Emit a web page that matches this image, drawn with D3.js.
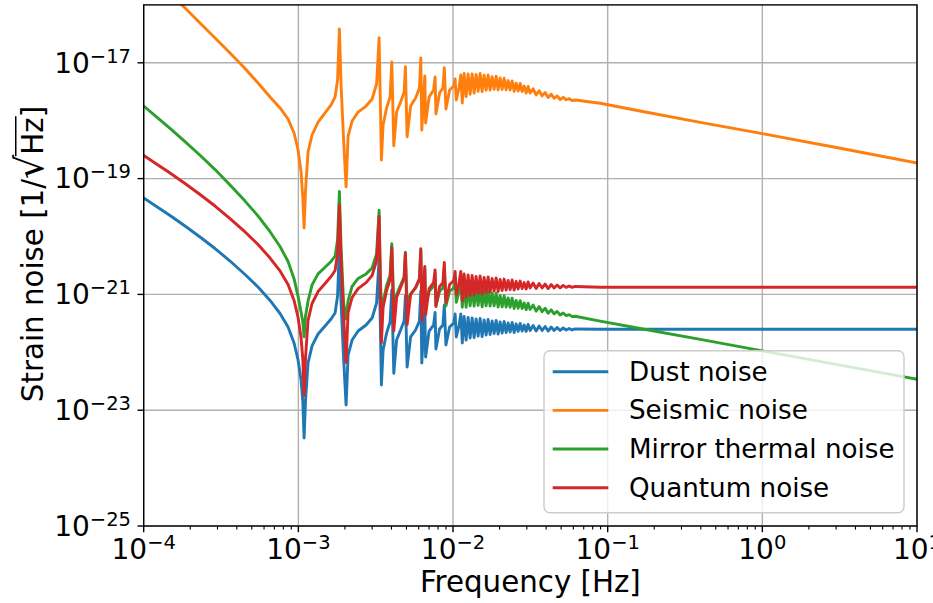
<!DOCTYPE html>
<html>
<head>
<meta charset="utf-8">
<script src="https://cdn.jsdelivr.net/npm/d3@7"></script>
<style>
  body { margin: 0; background: #fff; }
  svg { display: block; }
  text { font-family: "DejaVu Sans", sans-serif; fill: #000; }
</style>
</head>
<body>
<svg id="chart" width="933" height="603"></svg>
<script>
// Frequency grid shared by all noise curves [Hz]
const freqs = [
  1.00e-4, 1.183e-4, 1.480e-4, 1.850e-4, 2.313e-4, 2.893e-4, 3.616e-4, 4.521e-4, 5.487e-4, 6.561e-4,
  7.612e-4, 8.579e-4, 9.380e-4, 9.956e-4, 1.041e-3, 1.069e-3, 1.089e-3,
  1.113e-3, 1.155e-3, 1.226e-3, 1.341e-3, 1.488e-3, 1.627e-3, 1.728e-3, 1.793e-3,
  1.842e-3, 1.889e-3, 1.961e-3, 2.035e-3, 2.097e-3, 2.225e-3, 2.434e-3, 2.741e-3, 2.998e-3, 3.205e-3,
  3.327e-3, 3.392e-3, 3.443e-3, 3.531e-3, 3.720e-3, 3.918e-3, 4.019e-3, 4.141e-3, 4.317e-3, 4.583e-3,
  4.828e-3, 4.922e-3, 5.048e-3, 5.318e-3, 5.730e-3, 6.064e-3, 6.191e-3, 6.284e-3, 6.426e-3, 6.571e-3,
  6.650e-3, 7.004e-3, 7.489e-3, 7.659e-3, 7.751e-3, 8.189e-3, 8.603e-3, 8.784e-3, 8.997e-3, 9.506e-3,
  1.012e-2, 1.032e-2, 1.050e-2, 1.092e-2, 1.123e-2, 1.148e-2,
  1.180e-2, 1.215e-2, 1.252e-2, 1.290e-2, 1.329e-2, 1.369e-2, 1.410e-2, 1.453e-2, 1.497e-2, 1.542e-2,
  1.589e-2, 1.637e-2, 1.686e-2, 1.737e-2, 1.790e-2, 1.844e-2, 1.900e-2, 1.957e-2, 2.016e-2, 2.077e-2,
  2.140e-2, 2.205e-2, 2.271e-2, 2.340e-2, 2.411e-2, 2.484e-2, 2.559e-2, 2.636e-2, 2.716e-2, 2.798e-2,
  2.882e-2, 2.970e-2, 3.059e-2, 3.152e-2, 3.296e-2, 3.447e-2, 3.604e-2, 3.769e-2, 3.941e-2, 4.121e-2,
  4.310e-2, 4.507e-2, 4.712e-2, 4.928e-2, 5.153e-2, 5.389e-2, 5.635e-2, 5.892e-2, 6.162e-2,
  8.94e-2, 0.162, 0.397, 1.0, 3.19, 10.0
];

// Strain noise amplitude spectral densities [1/sqrt(Hz)]
const dustNoise = [
  4.62e-20, 3.43e-20, 2.31e-20, 1.52e-20, 9.80e-21, 6.20e-21, 3.77e-21, 2.21e-21, 1.34e-21, 7.85e-22,
  4.68e-22, 2.73e-22, 1.45e-22, 7.36e-23, 3.32e-23, 1.39e-23, 3.31e-24,
  1.50e-23, 6.53e-23, 1.29e-22, 2.07e-22, 2.85e-22, 3.76e-22, 4.77e-22, 9.38e-22,
  6.46e-21, 7.10e-22, 7.97e-23, 1.23e-23, 8.98e-23, 1.63e-22, 2.33e-22, 2.96e-22, 3.91e-22, 7.10e-22,
  4.09e-21, 2.63e-22, 2.72e-23, 1.10e-22, 2.15e-22, 3.34e-22, 1.19e-21, 4.34e-23, 1.63e-22, 2.43e-22,
  3.47e-22, 9.38e-22, 5.57e-23, 1.84e-22, 2.43e-22, 3.47e-22, 1.14e-21, 6.53e-23, 2.15e-22, 5.59e-22,
  8.29e-23, 2.33e-22, 2.96e-22, 4.87e-22, 1.14e-22, 2.53e-22, 2.96e-22, 6.56e-22, 1.34e-22, 2.73e-22,
  3.21e-22, 4.59e-22, 1.84e-22, 2.85e-22, 4.59e-22, 1.45e-22,
  4.15e-22, 1.63e-22, 3.99e-22, 1.77e-22, 3.91e-22, 1.80e-22, 3.76e-22, 1.91e-22, 3.83e-22, 1.87e-22,
  3.61e-22, 1.99e-22, 3.69e-22, 2.03e-22, 3.47e-22, 2.11e-22, 3.54e-22, 2.07e-22, 3.34e-22, 2.15e-22,
  3.40e-22, 2.20e-22, 3.21e-22, 2.24e-22, 3.27e-22, 2.20e-22, 3.08e-22, 2.29e-22, 3.14e-22, 2.33e-22,
  2.96e-22, 2.29e-22, 3.02e-22, 2.38e-22, 2.90e-22, 2.33e-22, 2.85e-22, 2.38e-22, 2.79e-22, 2.33e-22,
  2.73e-22, 2.38e-22, 2.68e-22, 2.38e-22, 2.63e-22, 2.43e-22, 2.58e-22, 2.43e-22, 2.53e-22,
  2.50e-22, 2.50e-22, 2.50e-22, 2.50e-22, 2.50e-22, 2.50e-22
];

const seismicNoise = [
  4.52e-16, 2.86e-16, 1.57e-16, 8.84e-17, 4.87e-17, 2.68e-17, 1.48e-17, 7.97e-18, 4.48e-18, 2.57e-18,
  1.66e-18, 1.07e-18, 6.13e-19, 3.12e-19, 1.30e-19, 4.62e-20, 1.40e-20,
  6.35e-20, 2.88e-19, 5.66e-19, 9.49e-19, 1.36e-18, 1.87e-18, 2.57e-18, 5.04e-18,
  3.83e-17, 4.14e-18, 4.64e-19, 7.25e-20, 5.44e-19, 9.88e-19, 1.41e-18, 1.79e-18, 2.37e-18, 4.30e-18,
  2.71e-17, 1.87e-18, 2.10e-19, 8.43e-19, 1.66e-18, 2.57e-18, 1.03e-17, 3.70e-19, 1.41e-18, 2.10e-18,
  3.13e-18, 8.56e-18, 5.29e-19, 1.79e-18, 2.47e-18, 3.67e-18, 1.21e-17, 6.91e-19, 2.28e-18, 5.92e-18,
  9.12e-19, 2.57e-18, 3.39e-18, 5.68e-18, 1.31e-18, 3.01e-18, 3.67e-18, 8.23e-18, 1.59e-18, 3.39e-18,
  3.97e-18, 5.25e-18, 2.28e-18, 3.67e-18, 6.16e-18, 2.02e-18,
  6.53e-18, 2.60e-18, 6.40e-18, 2.87e-18, 6.40e-18, 2.99e-18, 6.28e-18, 3.23e-18, 6.53e-18, 3.19e-18,
  6.11e-18, 3.35e-18, 6.18e-18, 3.39e-18, 5.77e-18, 3.50e-18, 5.85e-18, 3.40e-18, 5.46e-18, 3.47e-18,
  5.40e-18, 3.43e-18, 4.93e-18, 3.39e-18, 4.87e-18, 3.22e-18, 4.44e-18, 3.24e-18, 4.39e-18, 3.19e-18,
  3.97e-18, 3.01e-18, 3.90e-18, 3.01e-18, 3.56e-18, 2.78e-18, 3.29e-18, 2.68e-18, 3.07e-18, 2.51e-18,
  2.87e-18, 2.44e-18, 2.68e-18, 2.32e-18, 2.53e-18, 2.30e-18, 2.40e-18, 2.22e-18, 2.28e-18,
  2.00e-18, 1.47e-18, 9.38e-19, 5.99e-19, 3.34e-19, 1.86e-19
];

const mirrorThermalNoise = [
  1.79e-18, 1.225e-18, 7.39e-19, 4.36e-19, 2.53e-19, 1.43e-19, 7.78e-20, 4.09e-20, 2.26e-20, 1.21e-20,
  6.72e-21, 3.70e-21, 1.87e-21, 9.27e-22, 4.97e-22, 3.34e-22, 1.86e-22,
  4.24e-22, 7.64e-22, 1.46e-21, 2.26e-21, 2.94e-21, 3.71e-21, 4.58e-21, 8.84e-21,
  6.01e-20, 6.52e-21, 7.19e-22, 3.76e-22, 7.84e-22, 1.38e-21, 1.89e-21, 2.26e-21, 2.86e-21, 5.03e-21,
  2.85e-20, 1.81e-21, 6.30e-22, 7.41e-22, 1.42e-21, 2.14e-21, 7.54e-21, 7.39e-22, 9.98e-22, 1.45e-21,
  2.01e-21, 5.38e-21, 7.10e-22, 1.02e-21, 1.30e-21, 1.80e-21, 5.85e-21, 6.83e-22, 1.08e-21, 2.78e-21,
  6.56e-22, 1.13e-21, 1.38e-21, 2.25e-21, 6.30e-22, 1.13e-21, 1.29e-21, 2.83e-21, 6.30e-22, 1.14e-21,
  1.29e-21, 1.83e-21, 7.29e-22, 1.11e-21, 1.76e-21, 6.00e-22,
  1.55e-21, 6.01e-22, 1.45e-21, 6.33e-22, 1.38e-21, 6.26e-22, 1.29e-21, 6.45e-22, 1.27e-21, 6.13e-22,
  1.17e-21, 6.34e-22, 1.16e-21, 6.28e-22, 1.06e-21, 6.34e-22, 1.05e-21, 6.04e-22, 9.60e-22, 6.09e-22,
  9.49e-22, 6.05e-22, 8.70e-22, 5.99e-22, 8.61e-22, 5.71e-22, 7.88e-22, 5.77e-22, 7.80e-22, 5.70e-22,
  7.14e-22, 5.44e-22, 7.07e-22, 5.49e-22, 6.55e-22, 5.15e-22, 6.16e-22, 5.03e-22, 5.78e-22, 4.72e-22,
  5.41e-22, 4.61e-22, 5.08e-22, 4.41e-22, 4.77e-22, 4.31e-22, 4.48e-22, 4.13e-22, 4.20e-22,
  3.45e-22, 2.58e-22, 1.67e-22, 1.06e-22, 6.00e-23, 3.42e-23
];

const quantumNoise = [
  2.50e-19, 1.86e-19, 1.25e-19, 8.24e-20, 5.31e-20, 3.36e-20, 2.04e-20, 1.20e-20, 7.26e-21, 4.25e-21,
  2.54e-21, 1.48e-21, 7.86e-22, 3.99e-22, 1.80e-22, 7.53e-23, 1.79e-23,
  8.13e-23, 3.54e-22, 6.96e-22, 1.12e-21, 1.54e-21, 2.04e-21, 2.59e-21, 5.08e-21,
  3.50e-20, 3.85e-21, 4.32e-22, 6.67e-23, 4.87e-22, 8.83e-22, 1.26e-21, 1.60e-21, 2.12e-21, 3.85e-21,
  2.22e-20, 1.43e-21, 1.47e-22, 5.94e-22, 1.17e-21, 1.81e-21, 6.45e-21, 2.35e-22, 8.83e-22, 1.32e-21,
  1.88e-21, 5.08e-21, 3.02e-22, 9.97e-22, 1.32e-21, 1.88e-21, 6.18e-21, 3.54e-22, 1.17e-21, 3.03e-21,
  4.49e-22, 1.26e-21, 1.60e-21, 2.64e-21, 6.18e-22, 1.37e-21, 1.60e-21, 3.56e-21, 7.26e-22, 1.48e-21,
  1.74e-21, 2.49e-21, 9.97e-22, 1.54e-21, 2.49e-21, 7.86e-22,
  2.25e-21, 8.83e-22, 2.16e-21, 9.59e-22, 2.12e-21, 9.76e-22, 2.04e-21, 1.04e-21, 2.08e-21, 1.01e-21,
  1.96e-21, 1.08e-21, 2.00e-21, 1.10e-21, 1.88e-21, 1.14e-21, 1.92e-21, 1.12e-21, 1.81e-21, 1.17e-21,
  1.84e-21, 1.19e-21, 1.74e-21, 1.21e-21, 1.77e-21, 1.19e-21, 1.67e-21, 1.24e-21, 1.70e-21, 1.26e-21,
  1.60e-21, 1.24e-21, 1.64e-21, 1.29e-21, 1.57e-21, 1.26e-21, 1.54e-21, 1.29e-21, 1.51e-21, 1.26e-21,
  1.48e-21, 1.29e-21, 1.45e-21, 1.29e-21, 1.43e-21, 1.32e-21, 1.40e-21, 1.32e-21, 1.37e-21,
  1.33e-21, 1.33e-21, 1.33e-21, 1.33e-21, 1.33e-21, 1.33e-21
];

const seriesNames = ["Dust noise", "Seismic noise", "Mirror thermal noise", "Quantum noise"];
const seriesColors = ["#1f77b4", "#ff7f0e", "#2ca02c", "#d62728"];
const seriesValues = [dustNoise, seismicNoise, mirrorThermalNoise, quantumNoise];

// Decade exponents that carry tick labels
const xTickExponents = [-4, -3, -2, -1, 0, 1];
const yTickExponents = [-25, -23, -21, -19, -17];
const xLabel = "Frequency [Hz]";

// ---- layout ----
const W = 933, H = 603;
const plot = { left: 143.7, right: 917, top: 4.9, bottom: 526 };
const tickFont = 28, supFont = 19.5, labelFont = 29.3, legendFont = 26.2;

const svg = d3.select("#chart");
svg.append("rect").attr("width", W).attr("height", H).attr("fill", "#fff");

const x = d3.scaleLog().domain([1e-4, 10]).range([plot.left, plot.right]);
const y = d3.scaleLog().domain([1e-25, 1e-16]).range([plot.bottom, plot.top]);

const sup = e => (e < 0 ? "\u2212" + Math.abs(e) : String(e));

// grid
const grid = svg.append("g").attr("stroke", "#b0b0b0").attr("stroke-width", 1.4);
xTickExponents.forEach(e => {
  const px = x(Math.pow(10, e));
  grid.append("line").attr("x1", px).attr("x2", px).attr("y1", plot.top).attr("y2", plot.bottom);
});
yTickExponents.forEach(e => {
  const py = y(Math.pow(10, e));
  grid.append("line").attr("x1", plot.left).attr("x2", plot.right).attr("y1", py).attr("y2", py);
});

// curves
svg.append("clipPath").attr("id", "plotClip").append("rect")
  .attr("x", plot.left).attr("y", plot.top)
  .attr("width", plot.right - plot.left).attr("height", plot.bottom - plot.top);

const line = d3.line().x(d => x(d[0])).y(d => y(d[1]));
const curves = svg.append("g").attr("clip-path", "url(#plotClip)");
seriesValues.forEach((vals, i) => {
  curves.append("path")
    .datum(freqs.map((f, k) => [f, vals[k]]))
    .attr("d", line)
    .attr("fill", "none")
    .attr("stroke", seriesColors[i])
    .attr("stroke-width", 2.9)
    .attr("stroke-linejoin", "round")
    .attr("stroke-linecap", "square");
});

// axes ticks
const axes = svg.append("g").attr("stroke", "#000");
const minorX = [];
for (let e = -4; e < 1; e++) for (let m = 2; m <= 9; m++) minorX.push(m * Math.pow(10, e));
minorX.forEach(v => {
  const px = x(v);
  axes.append("line").attr("x1", px).attr("x2", px).attr("y1", plot.bottom).attr("y2", plot.bottom + 3.6).attr("stroke-width", 1.1);
});
xTickExponents.forEach(e => {
  const px = x(Math.pow(10, e));
  axes.append("line").attr("x1", px).attr("x2", px).attr("y1", plot.bottom).attr("y2", plot.bottom + 6.2).attr("stroke-width", 1.4);
});
yTickExponents.forEach(e => {
  const py = y(Math.pow(10, e));
  axes.append("line").attr("x1", plot.left - 6.2).attr("x2", plot.left).attr("y1", py).attr("y2", py).attr("stroke-width", 1.4);
});

// tick labels
xTickExponents.forEach(e => {
  const t = svg.append("text")
    .attr("x", x(Math.pow(10, e))).attr("y", 559)
    .attr("text-anchor", "middle").style("font-size", tickFont + "px");
  t.append("tspan").text("10");
  t.append("tspan").attr("dy", -10).style("font-size", supFont + "px").text(sup(e));
});
yTickExponents.forEach(e => {
  const t = svg.append("text")
    .attr("x", 131).attr("y", y(Math.pow(10, e)) + 9.8)
    .attr("text-anchor", "end").style("font-size", tickFont + "px");
  t.append("tspan").text("10");
  t.append("tspan").attr("dy", -10).style("font-size", supFont + "px").text(sup(e));
});

// spines
svg.append("rect")
  .attr("x", plot.left).attr("y", plot.top)
  .attr("width", plot.right - plot.left).attr("height", plot.bottom - plot.top)
  .attr("fill", "none").attr("stroke", "#000").attr("stroke-width", 1.4);

// axis labels
svg.append("text")
  .attr("x", (plot.left + plot.right) / 2).attr("y", 592)
  .attr("text-anchor", "middle").style("font-size", labelFont + "px")
  .text(xLabel);

const yLabelG = svg.append("g").attr("transform", "translate(43,254) rotate(-90)");
const yl = yLabelG.append("text").attr("text-anchor", "middle").style("font-size", labelFont + "px");
yl.append("tspan").text("Strain noise [1/");
yl.append("tspan").style("font-size", (labelFont * 1.3) + "px").text("\u221A");
yl.append("tspan").text("Hz");
yl.append("tspan").text("]");
{
  const node = yl.node();
  const iRad = "Strain noise [1/".length;
  const rEnd = node.getEndPositionOfChar(iRad).x;
  const zEnd = node.getEndPositionOfChar(iRad + 2).x;
  yLabelG.append("line")
    .attr("x1", rEnd - 1.5).attr("x2", zEnd + 1)
    .attr("y1", -0.93 * labelFont).attr("y2", -0.93 * labelFont)
    .attr("stroke", "#000").attr("stroke-width", 1.5);
}

// legend
const lg = svg.append("g");
lg.append("rect")
  .attr("x", 544).attr("y", 350.7).attr("width", 360).attr("height", 162)
  .attr("rx", 6).attr("ry", 6)
  .attr("fill", "#fff").attr("fill-opacity", 0.8)
  .attr("stroke", "#cccccc").attr("stroke-width", 1.4);
seriesNames.forEach((name, i) => {
  const cy = 371.7 + i * 38.67;
  lg.append("line").attr("x1", 552.7).attr("x2", 608.3).attr("y1", cy).attr("y2", cy)
    .attr("stroke", seriesColors[i]).attr("stroke-width", 2.9);
  lg.append("text").attr("x", 629).attr("y", cy + 9)
    .style("font-size", legendFont + "px").text(name);
});
</script>
</body>
</html>
